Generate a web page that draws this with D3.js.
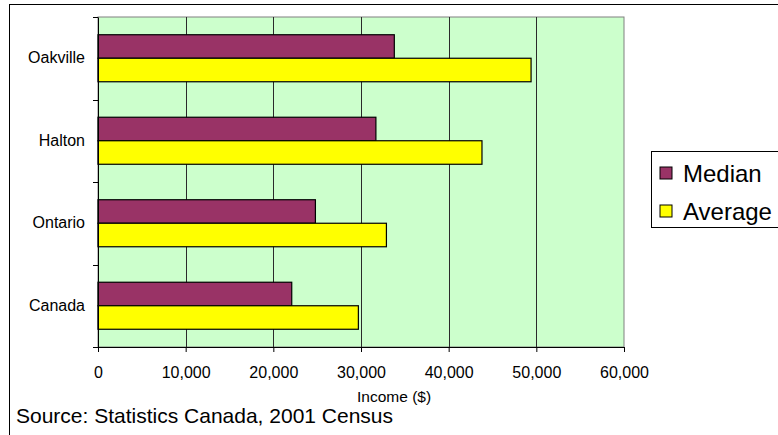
<!DOCTYPE html>
<html>
<head>
<meta charset="utf-8">
<script src="https://cdn.jsdelivr.net/npm/d3@7"></script>
<style>
  body { margin: 0; background: #fff; }
  svg { display: block; font-family: "Liberation Sans", Arial, sans-serif; }
</style>
</head>
<body>
<div id="chart"></div>
<script>
// data
var places = ["Oakville", "Halton", "Ontario", "Canada"];
var series = ["Median", "Average"];
var medianIncome = [33800, 31700, 24800, 22100];
var averageIncome = [49400, 43800, 32900, 29700];
var xTicks = [0, 10000, 20000, 30000, 40000, 50000, 60000];
var colors = ["#993366", "#ffff00"];

var W = 778, H = 435;
var plot = { left: 98, top: 17, right: 624, bottom: 347 };
var FONT = "'Liberation Sans', Arial, sans-serif";

var svg = d3.select("#chart").append("svg")
    .attr("width", W)
    .attr("height", H);

// outer chart frame (runs off the right and bottom edges)
svg.append("rect")
    .attr("x", 9.5).attr("y", 4.5)
    .attr("width", W + 10).attr("height", H + 10)
    .attr("fill", "#fff")
    .attr("stroke", "#000").attr("stroke-width", 1);

var x = d3.scaleLinear()
    .domain([0, 60000])
    .range([plot.left, plot.right]);

var y = d3.scaleBand()
    .domain(places)
    .range([plot.top, plot.bottom])
    .paddingInner(0.43)
    .paddingOuter(0.215);

var ySub = d3.scaleBand()
    .domain(series)
    .range([0, y.bandwidth()]);

// plot area
svg.append("rect")
    .attr("x", plot.left).attr("y", plot.top)
    .attr("width", plot.right - plot.left).attr("height", plot.bottom - plot.top)
    .attr("fill", "#ccffcc")
    .attr("stroke", "#808080");

// gridlines
svg.append("g").selectAll("line")
    .data(xTicks.slice(1, -1))
    .enter().append("line")
    .attr("x1", function(d) { return Math.round(x(d)) + 0.5; })
    .attr("x2", function(d) { return Math.round(x(d)) + 0.5; })
    .attr("y1", plot.top).attr("y2", plot.bottom)
    .attr("stroke", "#2a2a2a");

// bars
var rows = places.map(function(p, i) {
    return { place: p, values: [medianIncome[i], averageIncome[i]] };
});
svg.append("g").selectAll("g")
    .data(rows)
    .enter().append("g")
    .attr("transform", function(d) { return "translate(0," + y(d.place) + ")"; })
    .selectAll("rect")
    .data(function(d) { return d.values.map(function(v, j) { return { s: series[j], v: v, j: j }; }); })
    .enter().append("rect")
    .attr("x", x(0))
    .attr("y", function(d) { return ySub(d.s); })
    .attr("width", function(d) { return x(d.v) - x(0); })
    .attr("height", ySub.bandwidth())
    .attr("fill", function(d) { return colors[d.j]; })
    .attr("stroke", "#000")
    .attr("stroke-width", 1.2);

// x axis
var xAxis = svg.append("g")
    .attr("transform", "translate(0," + plot.bottom + ")")
    .attr("font-family", FONT)
    .call(d3.axisBottom(x).tickValues(xTicks).tickSize(5)
        .tickFormat(d3.format(",")));
xAxis.selectAll("text")
    .attr("y", 31).attr("dy", 0)
    .style("font-size", "16px").attr("fill", "#000");
xAxis.select(".domain").attr("stroke", "#000");

// y axis: labels centred on categories, ticks at category borders
var yAxis = svg.append("g")
    .attr("transform", "translate(" + plot.left + ",0)")
    .attr("font-family", FONT)
    .call(d3.axisLeft(y).tickSize(0).tickPadding(13));
yAxis.selectAll("text").style("font-size", "16px").attr("fill", "#000");
yAxis.select(".domain").attr("stroke", "#000");

var yEdge = d3.scaleLinear().domain([0, places.length]).range([plot.top, plot.bottom]);
svg.append("g").selectAll("line")
    .data(d3.range(places.length + 1))
    .enter().append("line")
    .attr("x1", plot.left - 5).attr("x2", plot.left)
    .attr("y1", function(d) { return Math.round(yEdge(d)) + 0.5; })
    .attr("y2", function(d) { return Math.round(yEdge(d)) + 0.5; })
    .attr("stroke", "#000");

// axis title
svg.append("text")
    .attr("x", 357)
    .attr("y", 402)
    .style("font-size", "15.5px")
    .text("Income ($)");

// source note
svg.append("text")
    .attr("x", 16)
    .attr("y", 422.5)
    .style("font-size", "21px")
    .text("Source: Statistics Canada, 2001 Census");

// legend
var legend = svg.append("g").attr("transform", "translate(651,151)");
legend.append("rect")
    .attr("x", 0.5).attr("y", 0.5)
    .attr("width", 140).attr("height", 76)
    .attr("fill", "#fff")
    .attr("stroke", "#000");
var item = legend.selectAll(".item")
    .data(series)
    .enter().append("g")
    .attr("class", "item")
    .attr("transform", function(d, i) { return "translate(9," + (16 + i * 38) + ")"; });
item.append("rect")
    .attr("width", 12).attr("height", 12)
    .attr("fill", function(d, i) { return colors[i]; })
    .attr("stroke", "#000");
item.append("text")
    .attr("x", 23).attr("y", 6)
    .attr("dy", "0.36em")
    .style("font-size", "24px")
    .text(function(d) { return d; });
</script>
</body>
</html>
